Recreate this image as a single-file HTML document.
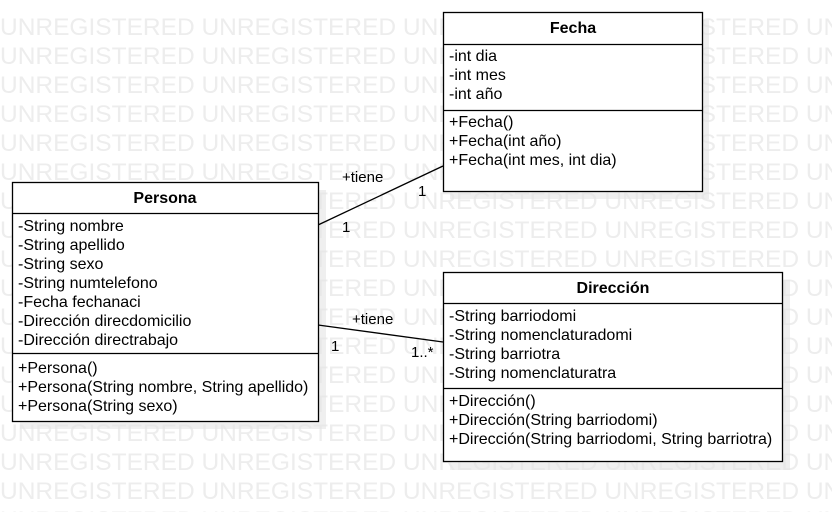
<!DOCTYPE html>
<html><head><meta charset="utf-8"><style>
html,body{margin:0;padding:0;background:#fff;}
svg{display:block;font-family:"Liberation Sans",Arial,sans-serif;}
</style></head><body>
<svg width="832" height="512" viewBox="0 0 832 512" xmlns="http://www.w3.org/2000/svg">
<g fill="#ededed" font-size="24.5" font-family="Liberation Sans, Arial, sans-serif">
<text x="0" y="35">UNREGISTERED UNREGISTERED UNREGISTERED UNREGISTERED UN</text>
<text x="0" y="64">UNREGISTERED UNREGISTERED UNREGISTERED UNREGISTERED UN</text>
<text x="0" y="93">UNREGISTERED UNREGISTERED UNREGISTERED UNREGISTERED UN</text>
<text x="0" y="122">UNREGISTERED UNREGISTERED UNREGISTERED UNREGISTERED UN</text>
<text x="0" y="151">UNREGISTERED UNREGISTERED UNREGISTERED UNREGISTERED UN</text>
<text x="0" y="180">UNREGISTERED UNREGISTERED UNREGISTERED UNREGISTERED UN</text>
<text x="0" y="209">UNREGISTERED UNREGISTERED UNREGISTERED UNREGISTERED UN</text>
<text x="0" y="238">UNREGISTERED UNREGISTERED UNREGISTERED UNREGISTERED UN</text>
<text x="0" y="267">UNREGISTERED UNREGISTERED UNREGISTERED UNREGISTERED UN</text>
<text x="0" y="296">UNREGISTERED UNREGISTERED UNREGISTERED UNREGISTERED UN</text>
<text x="0" y="325">UNREGISTERED UNREGISTERED UNREGISTERED UNREGISTERED UN</text>
<text x="0" y="354">UNREGISTERED UNREGISTERED UNREGISTERED UNREGISTERED UN</text>
<text x="0" y="383">UNREGISTERED UNREGISTERED UNREGISTERED UNREGISTERED UN</text>
<text x="0" y="412">UNREGISTERED UNREGISTERED UNREGISTERED UNREGISTERED UN</text>
<text x="0" y="441">UNREGISTERED UNREGISTERED UNREGISTERED UNREGISTERED UN</text>
<text x="0" y="470">UNREGISTERED UNREGISTERED UNREGISTERED UNREGISTERED UN</text>
<text x="0" y="499">UNREGISTERED UNREGISTERED UNREGISTERED UNREGISTERED UN</text>
<text x="0" y="528">UNREGISTERED UNREGISTERED UNREGISTERED UNREGISTERED UN</text>
</g>
<rect x="450" y="20" width="259" height="179" fill="#e4e4e4" opacity="0.6"/>
<rect x="20" y="190" width="306" height="239" fill="#e4e4e4" opacity="0.6"/>
<rect x="450" y="280" width="340" height="190" fill="#e4e4e4" opacity="0.6"/>
<line x1="318" y1="225" x2="443" y2="166" stroke="#000" stroke-width="1.3"/>
<line x1="318" y1="325" x2="443" y2="342" stroke="#000" stroke-width="1.3"/>
<g font-size="15" fill="#000">
<text x="342" y="182">+tiene</text>
<text x="418" y="196">1</text>
<text x="342" y="232">1</text>
<text x="352" y="324">+tiene</text>
<text x="331" y="351">1</text>
<text x="411" y="357">1..*</text>
</g>
<rect x="443.5" y="12.5" width="259" height="179" fill="#fff" stroke="#000" stroke-width="1.3"/>
<line x1="443" y1="44.5" x2="703" y2="44.5" stroke="#000" stroke-width="1.3"/>
<line x1="443" y1="110.5" x2="703" y2="110.5" stroke="#000" stroke-width="1.3"/>
<g font-size="16" fill="#000">
<text x="573" y="33" text-anchor="middle" font-weight="bold">Fecha</text>
<text x="449" y="61">-int dia</text>
<text x="449" y="80">-int mes</text>
<text x="449" y="99">-int año</text>
<text x="449" y="127">+Fecha()</text>
<text x="449" y="146">+Fecha(int año)</text>
<text x="449" y="165">+Fecha(int mes, int dia)</text>
</g>
<rect x="12.5" y="182.5" width="306" height="239" fill="#fff" stroke="#000" stroke-width="1.3"/>
<line x1="12" y1="213.5" x2="319" y2="213.5" stroke="#000" stroke-width="1.3"/>
<line x1="12" y1="353.5" x2="319" y2="353.5" stroke="#000" stroke-width="1.3"/>
<g font-size="16" fill="#000">
<text x="165" y="203" text-anchor="middle" font-weight="bold">Persona</text>
<text x="18" y="231">-String nombre</text>
<text x="18" y="250">-String apellido</text>
<text x="18" y="269">-String sexo</text>
<text x="18" y="288">-String numtelefono</text>
<text x="18" y="307">-Fecha fechanaci</text>
<text x="18" y="326">-Dirección direcdomicilio</text>
<text x="18" y="345">-Dirección directrabajo</text>
<text x="18" y="373">+Persona()</text>
<text x="18" y="392">+Persona(String nombre, String apellido)</text>
<text x="18" y="411">+Persona(String sexo)</text>
</g>
<rect x="443.5" y="272.5" width="339" height="189" fill="#fff" stroke="#000" stroke-width="1.3"/>
<line x1="443" y1="303.5" x2="783" y2="303.5" stroke="#000" stroke-width="1.3"/>
<line x1="443" y1="388.5" x2="783" y2="388.5" stroke="#000" stroke-width="1.3"/>
<g font-size="16" fill="#000">
<text x="613" y="293" text-anchor="middle" font-weight="bold">Dirección</text>
<text x="449" y="321">-String barriodomi</text>
<text x="449" y="340">-String nomenclaturadomi</text>
<text x="449" y="359">-String barriotra</text>
<text x="449" y="378">-String nomenclaturatra</text>
<text x="449" y="406">+Dirección()</text>
<text x="449" y="425">+Dirección(String barriodomi)</text>
<text x="449" y="444">+Dirección(String barriodomi, String barriotra)</text>
</g>
</svg>
</body></html>
